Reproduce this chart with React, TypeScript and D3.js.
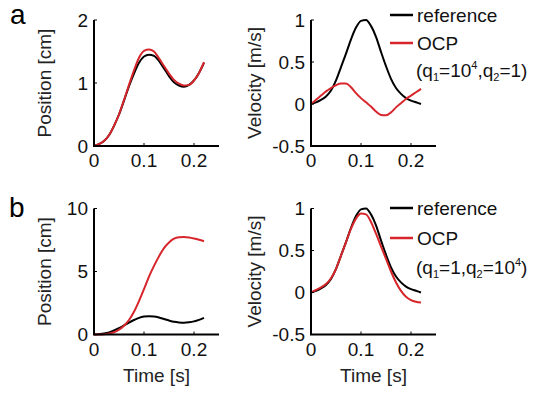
import React from "react";
import * as d3 from "d3";

// ---------- data ----------
const timeS = [0, 0.01, 0.02, 0.03, 0.04, 0.05, 0.06, 0.07, 0.08, 0.09, 0.1, 0.11, 0.12, 0.13, 0.14, 0.15, 0.16, 0.17, 0.18, 0.19, 0.2, 0.21, 0.22];

// reference trajectory (black)
const refPosition = [0, 0.03, 0.08, 0.17, 0.32, 0.5, 0.72, 0.95, 1.15, 1.32, 1.42, 1.45, 1.43, 1.35, 1.23, 1.11, 1.01, 0.96, 0.94, 0.97, 1.04, 1.16, 1.32];
const refVelocity = [0, 0.02, 0.05, 0.09, 0.16, 0.28, 0.44, 0.6, 0.77, 0.91, 0.99, 1.0, 0.93, 0.8, 0.62, 0.45, 0.3, 0.19, 0.12, 0.07, 0.04, 0.02, 0.0];

// OCP (q1=10^4, q2=1)  (red, panel a)
const ocpPositionA = [0, 0.03, 0.08, 0.17, 0.32, 0.5, 0.73, 0.97, 1.2, 1.4, 1.51, 1.53, 1.5, 1.39, 1.27, 1.15, 1.05, 0.99, 0.96, 0.97, 1.04, 1.16, 1.33];
const ocpVelocityA = [0, 0.05, 0.1, 0.15, 0.19, 0.225, 0.245, 0.245, 0.2, 0.13, 0.07, 0.02, -0.03, -0.09, -0.13, -0.135, -0.1, -0.04, 0.01, 0.06, 0.1, 0.14, 0.18];

// OCP (q1=1, q2=10^4)  (red, panel b)
const ocpPositionB = [0, 0, 0.02, 0.08, 0.18, 0.38, 0.7, 1.15, 1.8, 2.65, 3.6, 4.6, 5.45, 6.2, 6.85, 7.3, 7.6, 7.72, 7.74, 7.7, 7.62, 7.52, 7.4];
const ocpVelocityB = [0, 0.03, 0.06, 0.1, 0.17, 0.28, 0.44, 0.6, 0.76, 0.88, 0.94, 0.93, 0.84, 0.7, 0.55, 0.4, 0.25, 0.12, 0.02, -0.05, -0.09, -0.11, -0.12];

const xTicks = [0, 0.1, 0.2];
const xTickLabels = ["0", "0.1", "0.2"];
const posTicksA = [0, 1, 2];
const posTicksB = [0, 5, 10];
const velTicks = [-0.5, 0, 0.5, 1];
const velTickLabels = ["-0.5", "0", "0.5", "1"];

const FONT = "'Liberation Sans', Arial, sans-serif";
const BLACK = "#000000";
const RED = "#d7262b";

type Series = { values: number[]; color: string };

function Panel(props: {
  left: number;
  top: number;
  width: number;
  height: number;
  yDomain: [number, number];
  yTicks: number[];
  yTickLabels: string[];
  series: Series[];
  yLabel: string;
  yLabelOffset: number;
  showXLabel: boolean;
}) {
  const { left, top, width, height, yDomain, yTicks, yTickLabels, series, yLabel, yLabelOffset, showXLabel } = props;
  const x = d3.scaleLinear().domain([0, 0.25]).range([left, left + width]);
  const y = d3.scaleLinear().domain(yDomain).range([top + height, top]);
  const line = d3
    .line<number>()
    .x((_, i) => x(timeS[i]))
    .y((d) => y(d))
    .curve(d3.curveMonotoneX);
  const bottom = top + height;
  return (
    <g>
      {series.map((s, k) => (
        <path key={k} d={line(s.values) || ""} fill="none" stroke={s.color} strokeWidth={2} strokeLinejoin="round" />
      ))}
      <path d={`M${left},${top}V${bottom}H${left + width}`} fill="none" stroke="#000" strokeWidth={2} />
      {xTicks.map((t, i) => (
        <g key={"x" + i}>
          {i > 0 && <line x1={x(t)} x2={x(t)} y1={bottom} y2={bottom - 3} stroke="#000" strokeWidth={1} />}
          <text x={x(t)} y={bottom + 21} textAnchor="middle" fontSize={19} fontFamily={FONT} fill="#111">
            {xTickLabels[i]}
          </text>
        </g>
      ))}
      {yTicks.map((t, i) => (
        <g key={"y" + i}>
          <line x1={left} x2={left + 3} y1={y(t)} y2={y(t)} stroke="#000" strokeWidth={1} />
          <text x={left - 6} y={y(t)} dy="0.35em" textAnchor="end" fontSize={19} fontFamily={FONT} fill="#111">
            {yTickLabels[i]}
          </text>
        </g>
      ))}
      <text
        transform={`translate(${left - yLabelOffset},${top + height / 2}) rotate(-90)`}
        textAnchor="middle"
        fontSize={19}
        fontFamily={FONT}
        fill="#222"
      >
        {yLabel}
      </text>
      {showXLabel && (
        <text x={left + width / 2} y={bottom + 47} textAnchor="middle" fontSize={19} fontFamily={FONT} fill="#222">
          Time [s]
        </text>
      )}
    </g>
  );
}

function Legend(props: { x: number; y: number; gap: number; textGap: number; q1: [string, string?]; q2: [string, string?] }) {
  const { x, y, gap, textGap, q1, q2 } = props;
  const tx = x + 27;
  return (
    <g fontFamily={FONT} fontSize={19} fill="#111">
      <line x1={x} x2={x + 23} y1={y} y2={y} stroke={BLACK} strokeWidth={2.5} />
      <text x={tx} y={y} dy="0.35em">reference</text>
      <line x1={x} x2={x + 23} y1={y + gap} y2={y + gap} stroke={RED} strokeWidth={2.5} />
      <text x={tx} y={y + gap} dy="0.35em">OCP</text>
      <text x={tx - 1} y={y + textGap}>
        (q
        <tspan fontSize={11} dy={4}>1</tspan>
        <tspan dy={-4}>={q1[0]}</tspan>
        {q1[1] ? <tspan fontSize={11} dy={-8}>{q1[1]}</tspan> : null}
        <tspan dy={q1[1] ? 8 : 0}>,q</tspan>
        <tspan fontSize={11} dy={4}>2</tspan>
        <tspan dy={-4}>={q2[0]}</tspan>
        {q2[1] ? <tspan fontSize={11} dy={-8}>{q2[1]}</tspan> : null}
        <tspan dy={q2[1] ? 8 : 0}>)</tspan>
      </text>
    </g>
  );
}

export default function App() {
  const W = 534;
  const H = 397;
  const pw = 125;
  const ph = 126;
  return (
    <svg width={W} height={H} style={{ position: "absolute", left: 0, top: 0, background: "#fff" }}>
      <rect width={W} height={H} fill="#fff" />
      <text x={10} y={24} fontSize={28} fontFamily={FONT} fill="#000">a</text>
      <text x={9} y={217} fontSize={28} fontFamily={FONT} fill="#000">b</text>

      <Panel
        left={94}
        top={20}
        width={pw}
        height={ph}
        yDomain={[0, 2]}
        yTicks={posTicksA}
        yTickLabels={posTicksA.map(String)}
        series={[
          { values: refPosition, color: BLACK },
          { values: ocpPositionA, color: RED },
        ]}
        yLabel="Position [cm]"
        yLabelOffset={43}
        showXLabel={false}
      />
      <Panel
        left={311}
        top={20}
        width={pw}
        height={ph}
        yDomain={[-0.5, 1]}
        yTicks={velTicks}
        yTickLabels={velTickLabels}
        series={[
          { values: refVelocity, color: BLACK },
          { values: ocpVelocityA, color: RED },
        ]}
        yLabel="Velocity [m/s]"
        yLabelOffset={50}
        showXLabel={false}
      />
      <Panel
        left={94}
        top={208.5}
        width={pw}
        height={ph}
        yDomain={[0, 10]}
        yTicks={posTicksB}
        yTickLabels={posTicksB.map(String)}
        series={[
          { values: refPosition, color: BLACK },
          { values: ocpPositionB, color: RED },
        ]}
        yLabel="Position [cm]"
        yLabelOffset={43}
        showXLabel={true}
      />
      <Panel
        left={311}
        top={208.5}
        width={pw}
        height={ph}
        yDomain={[-0.5, 1]}
        yTicks={velTicks}
        yTickLabels={velTickLabels}
        series={[
          { values: refVelocity, color: BLACK },
          { values: ocpVelocityB, color: RED },
        ]}
        yLabel="Velocity [m/s]"
        yLabelOffset={50}
        showXLabel={true}
      />

      <Legend x={390} y={15} gap={28} textGap={62} q1={["10", "4"]} q2={["1"]} />
      <Legend x={390} y={208} gap={30} textGap={66} q1={["1"]} q2={["10", "4"]} />
    </svg>
  );
}
